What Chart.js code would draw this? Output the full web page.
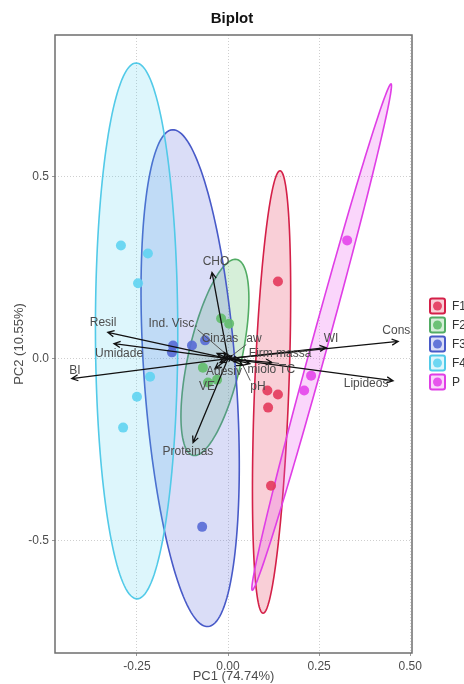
<!DOCTYPE html>
<html>
<head>
<meta charset="utf-8">
<title>Biplot</title>
<script src="https://cdn.jsdelivr.net/npm/chart.js@4.4.1/dist/chart.umd.min.js"></script>
<style>
  html, body { margin: 0; padding: 0; background: #fff; }
</style>
</head>
<body>
<canvas id="myChart" width="464" height="684"></canvas>
<script>
// groups (formulations)
const groups = ["F1", "F2", "F3", "F4", "P"];

// PCA scores, one pair of arrays per group
const f1PC1 = [0.137, 0.108, 0.137, 0.110, 0.118];
const f1PC2 = [0.212, -0.088, -0.099, -0.135, -0.350];
const f2PC1 = [-0.019, 0.003, -0.069, -0.055, -0.030];
const f2PC2 = [0.110, 0.096, -0.025, -0.066, -0.058];
const f3PC1 = [-0.151, -0.154, -0.099, -0.063, -0.071];
const f3PC2 = [0.036, 0.017, 0.036, 0.050, -0.463];
const f4PC1 = [-0.294, -0.220, -0.247, -0.214, -0.250, -0.288];
const f4PC2 = [0.311, 0.289, 0.207, -0.050, -0.105, -0.190];
const pPC1 = [0.327, 0.228, 0.209];
const pPC2 = [0.325, -0.047, -0.088];

// confidence ellipses: centre, semi axes, angle (deg)
const ellCenterX = [0.1195, -0.036, -0.104, -0.251, 0.257];
const ellCenterY = [-0.092, 0.003, -0.054, 0.076, 0.059];
const ellSemiMajor = [0.609, 0.276, 0.685, 0.737, 0.722];
const ellSemiMinor = [0.047, 0.073, 0.126, 0.113, 0.022];
const ellAngle = [87.8, 77.4, 94.1, 90.1, 74.7];

// variable loadings (arrows)
const varNames = ["Cons", "Lipideos", "WI", "Firm massa", "TC", "miolo", "pH", "aw", "Cinzas",
  "Ind. Visc.", "Adesiv", "VE", "CHO", "Proteinas", "Resil", "Umidade", "BI"];
const loadPC1 = [0.467, 0.453, 0.269, 0.033, 0.121, 0.060, 0.041, 0.011, -0.030,
  -0.011, -0.022, -0.036, -0.044, -0.096, -0.330, -0.313, -0.429];
const loadPC2 = [0.047, -0.061, 0.030, -0.003, -0.011, -0.014, -0.019, 0.008, 0.014,
  0.017, -0.011, -0.028, 0.237, -0.231, 0.072, 0.041, -0.055];

// where the repelled labels sit (data units) and which ones get a leader line
const labelAt = [[0.462, 0.077], [0.379, -0.069], [0.283, 0.055], [0.143, 0.014], [0.162, -0.030],
  [0.093, -0.030], [0.082, -0.077], [0.071, 0.055], [-0.022, 0.055], [-0.151, 0.096],
  [-0.011, -0.036], [-0.058, -0.077], [-0.033, 0.267], [-0.110, -0.256], [-0.343, 0.099],
  [-0.299, 0.014], [-0.420, -0.033]];
const leader = [false, false, false, false, true, false, true, true, false,
  true, false, false, false, false, false, false, false];

const xTicks = [-0.25, 0, 0.25, 0.5];
const yTicks = [-0.5, 0, 0.5];

const pointColors = ["rgba(228,58,92,0.9)", "rgba(98,190,108,0.9)", "rgba(88,108,214,0.9)",
  "rgba(96,212,242,0.9)", "rgba(230,70,235,0.9)"];
const ellBorders = ["rgb(212,32,72)", "rgb(82,172,100)", "rgb(72,90,200)", "rgb(82,202,232)", "rgb(224,62,230)"];
const ellFills = ["rgba(232,62,96,0.25)", "rgba(92,190,104,0.25)", "rgba(100,112,222,0.24)",
  "rgba(84,210,240,0.2)", "rgba(236,90,240,0.25)"];

const scores = [[f1PC1, f1PC2], [f2PC1, f2PC2], [f3PC1, f3PC2], [f4PC1, f4PC2], [pPC1, pPC2]];

Chart.defaults.font.family = "'Liberation Sans', Arial, sans-serif";

// ellipses go under the points
const ellipsePlugin = {
  id: 'ellipses',
  beforeDatasetsDraw(chart) {
    const { ctx, chartArea, scales: { x, y } } = chart;
    ctx.save();
    ctx.beginPath();
    ctx.rect(chartArea.left, chartArea.top, chartArea.width, chartArea.height);
    ctx.clip();
    groups.forEach((g, i) => {
      const th = ellAngle[i] * Math.PI / 180;
      const a = ellSemiMajor[i], b = ellSemiMinor[i];
      ctx.beginPath();
      for (let k = 0; k <= 160; k++) {
        const t = k / 160 * Math.PI * 2;
        const ex = ellCenterX[i] + a * Math.cos(t) * Math.cos(th) - b * Math.sin(t) * Math.sin(th);
        const ey = ellCenterY[i] + a * Math.cos(t) * Math.sin(th) + b * Math.sin(t) * Math.cos(th);
        const px = x.getPixelForValue(ex), py = y.getPixelForValue(ey);
        if (k === 0) ctx.moveTo(px, py); else ctx.lineTo(px, py);
      }
      ctx.closePath();
      ctx.fillStyle = ellFills[i];
      ctx.fill();
      ctx.lineWidth = 1.6;
      ctx.strokeStyle = ellBorders[i];
      ctx.stroke();
    });
    ctx.restore();
  }
};

// loading arrows + labels on top
const arrowPlugin = {
  id: 'arrows',
  afterDatasetsDraw(chart) {
    const { ctx, scales: { x, y } } = chart;
    const ox = x.getPixelForValue(0), oy = y.getPixelForValue(0);
    ctx.save();
    ctx.strokeStyle = '#111';
    ctx.lineWidth = 1.3;
    varNames.forEach((name, i) => {
      const tx = x.getPixelForValue(loadPC1[i]), ty = y.getPixelForValue(loadPC2[i]);
      ctx.beginPath();
      ctx.moveTo(ox, oy);
      ctx.lineTo(tx, ty);
      const ang = Math.atan2(ty - oy, tx - ox);
      ctx.moveTo(tx - 7 * Math.cos(ang - 0.45), ty - 7 * Math.sin(ang - 0.45));
      ctx.lineTo(tx, ty);
      ctx.lineTo(tx - 7 * Math.cos(ang + 0.45), ty - 7 * Math.sin(ang + 0.45));
      ctx.stroke();
    });
    ctx.font = "12px 'Liberation Sans', Arial, sans-serif";
    ctx.textAlign = 'center';
    ctx.textBaseline = 'middle';
    varNames.forEach((name, i) => {
      const lx = x.getPixelForValue(labelAt[i][0]), ly = y.getPixelForValue(labelAt[i][1]);
      if (leader[i]) {
        const tx = x.getPixelForValue(loadPC1[i]), ty = y.getPixelForValue(loadPC2[i]);
        const w = ctx.measureText(name).width / 2;
        const cx = Math.min(Math.max(tx, lx - w), lx + w);
        const cy = Math.min(Math.max(ty, ly - 6), ly + 6);
        ctx.beginPath();
        ctx.strokeStyle = '#555';
        ctx.lineWidth = 1;
        ctx.moveTo(tx, ty);
        ctx.lineTo(cx, cy);
        ctx.stroke();
      }
      ctx.fillStyle = '#4d4d4d';
      ctx.fillText(name, lx, ly);
    });
    ctx.restore();
  }
};

// panel frame and the legend on the right
const framePlugin = {
  id: 'frame',
  afterDraw(chart) {
    const { ctx, chartArea } = chart;
    ctx.save();
    ctx.strokeStyle = '#6e6e6e';
    ctx.lineWidth = 1.5;
    ctx.strokeRect(chartArea.left, chartArea.top, chartArea.width, chartArea.height);

    const size = 15, gap = 19;
    const left = chartArea.right + 18;
    let top = (chartArea.top + chartArea.bottom) / 2 - (groups.length * gap - (gap - size)) / 2;
    ctx.font = "12px 'Liberation Sans', Arial, sans-serif";
    ctx.textBaseline = 'middle';
    groups.forEach((g, i) => {
      ctx.beginPath();
      ctx.roundRect(left, top, size, size, 2);
      ctx.fillStyle = ellFills[i];
      ctx.fill();
      ctx.lineWidth = 2;
      ctx.strokeStyle = ellBorders[i];
      ctx.stroke();
      ctx.beginPath();
      ctx.arc(left + size / 2, top + size / 2, 4.5, 0, Math.PI * 2);
      ctx.fillStyle = pointColors[i];
      ctx.fill();
      ctx.fillStyle = '#333';
      ctx.fillText(g, left + size + 7, top + size / 2 + 1);
      top += gap;
    });
    ctx.restore();
  }
};

const myChart = new Chart(document.getElementById('myChart'), {
  type: 'scatter',
  data: {
    datasets: groups.map((g, i) => ({
      label: g,
      data: scores[i][0].map((v, k) => ({ x: v, y: scores[i][1][k] })),
      backgroundColor: pointColors[i],
      borderWidth: 0,
      pointRadius: 5
    }))
  },
  options: {
    responsive: false,
    animation: false,
    plugins: {
      legend: { display: false },
      tooltip: { enabled: false },
      title: {
        display: true,
        text: 'Biplot',
        color: '#111',
        font: { size: 15, weight: 'bold' },
        padding: { top: 10, bottom: 7 }
      }
    },
    scales: {
      x: {
        type: 'linear',
        min: -0.475,
        max: 0.505,
        afterBuildTicks: s => { s.ticks = xTicks.map(v => ({ value: v })); },
        afterFit: s => { s.height = 31; },
        ticks: { callback: v => v.toFixed(2), color: '#4d4d4d', font: { size: 12 }, padding: 3 },
        grid: { color: '#cfcfcf', tickLength: 3, tickColor: '#999' },
        border: { display: false, dash: [1, 2] },
        title: { display: true, text: 'PC1 (74.74%)', color: '#4d4d4d', font: { size: 13 }, padding: 0 }
      },
      y: {
        type: 'linear',
        min: -0.81,
        max: 0.89,
        afterBuildTicks: s => { s.ticks = yTicks.map(v => ({ value: v })); },
        afterFit: s => { s.width = 55; },
        ticks: { callback: v => v.toFixed(1), color: '#4d4d4d', font: { size: 12 }, padding: 3 },
        grid: { color: '#cfcfcf', tickLength: 3, tickColor: '#999' },
        border: { display: false, dash: [1, 2] },
        title: { display: true, text: 'PC2 (10.55%)', color: '#4d4d4d', font: { size: 13 }, padding: { top: 12, bottom: 12 } }
      },
      // empty axis on the right just to keep room for the legend
      legendRoom: {
        type: 'linear',
        position: 'right',
        afterFit: s => { s.width = 52; },
        ticks: { display: false },
        grid: { display: false },
        border: { display: false }
      }
    }
  },
  plugins: [ellipsePlugin, arrowPlugin, framePlugin]
});
</script>
</body>
</html>
